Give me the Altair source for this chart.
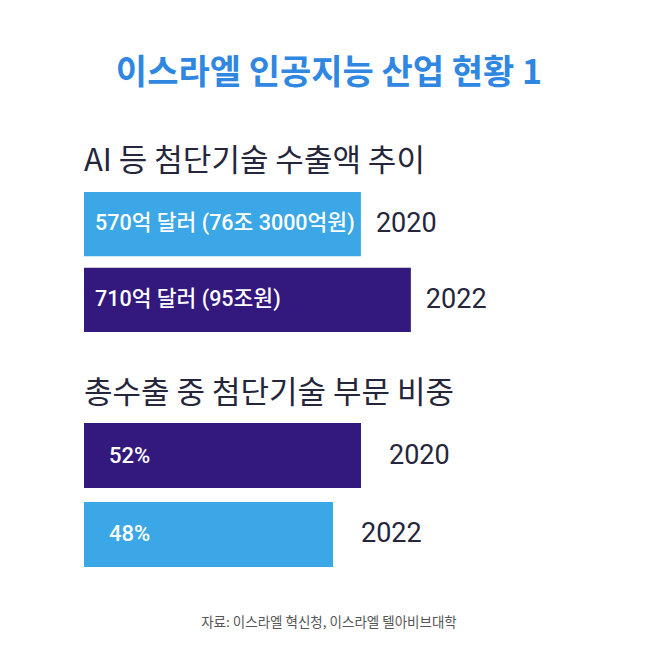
import altair as alt
import pandas as pd

# ---- text ----
title_text = "이스라엘 인공지능 산업 현황 1"
panel1_title = "AI 등 첨단기술 수출액 추이"
panel2_title = "총수출 중 첨단기술 부문 비중"
source_text = "자료: 이스라엘 혁신청, 이스라엘 텔아비브대학"

# ---- data ----
export_years = ["2020", "2022"]
export_values = [570, 710]
export_labels = ["570억 달러 (76조 3000억원)", "710억 달러 (95조원)"]

share_years = ["2020", "2022"]
share_values = [52, 48]
share_labels = ["52%", "48%"]

# ---- style ----
LIGHT = "#3ba7e6"
DARK = "#33187e"
TITLE_BLUE = "#2f87e2"
INK = "#25253b"
FONT = "Roboto, 'Noto Sans CJK KR', sans-serif"
KFONT = "'Noto Sans CJK KR', Roboto, sans-serif"

W = 490


def panel(years, values, labels, title, domain, colors, height, pad_inner,
          label_x, label_size, year_dx, title_offset):
    df = pd.DataFrame({"year": years, "value": values, "label": labels})
    xscale = alt.Scale(domain=domain, zero=False, nice=False)
    base = alt.Chart(df).encode(
        y=alt.Y("year:N", sort=None, axis=None,
                scale=alt.Scale(paddingInner=pad_inner, paddingOuter=0)),
    )
    bars = base.mark_bar().encode(
        x=alt.X("value:Q", axis=None, scale=xscale, stack=None),
        x2=alt.value(0),
        color=alt.Color("year:N", legend=None,
                        scale=alt.Scale(domain=years, range=colors)),
    )
    inner = base.mark_text(align="left", baseline="middle", color="white",
                           fontSize=label_size, fontWeight=500, font=FONT).encode(
        x=alt.value(label_x), text="label:N")
    yrs = base.mark_text(align="left", baseline="middle", dx=year_dx,
                         fontSize=27, color=INK, font=FONT).encode(
        x=alt.X("value:Q", scale=xscale, axis=None, stack=None), text="year:N")
    return alt.layer(bars, inner, yrs).properties(
        width=W, height=height,
        title=alt.TitleParams(title, anchor="start", fontSize=31, font=KFONT,
                              fontWeight=400, color=INK, offset=title_offset),
    )


p1 = panel(export_years, export_values, export_labels, panel1_title,
           [-205.6, 1167], [LIGHT, DARK], 140, 0.15, 11, 21.5, 15, 14)
p2 = panel(share_years, share_values, share_labels, panel2_title,
           [12.43, 82.43], [DARK, LIGHT], 144, 0.177, 25, 22, 28, 13)

footer = alt.Chart(pd.DataFrame({"t": [source_text]})).mark_text(
    fontSize=13.5, color="#555555", font=KFONT, baseline="middle"
).encode(text="t:N", x=alt.value(W / 2), y=alt.value(10)).properties(width=W, height=20)

top = alt.vconcat(p1, p2, spacing=46).resolve_scale(
    x="independent", y="independent", color="independent")

chart = alt.vconcat(top, footer, spacing=46).properties(
    title=alt.TitleParams(title_text, anchor="middle", fontSize=34, font=KFONT,
                          fontWeight="bold", color=TITLE_BLUE, offset=55),
    padding={"left": 76, "right": 76, "top": 49, "bottom": 10},
    background="white",
).configure_view(stroke=None)

chart.save("out.html", embed_options={"renderer": "svg", "actions": False})
